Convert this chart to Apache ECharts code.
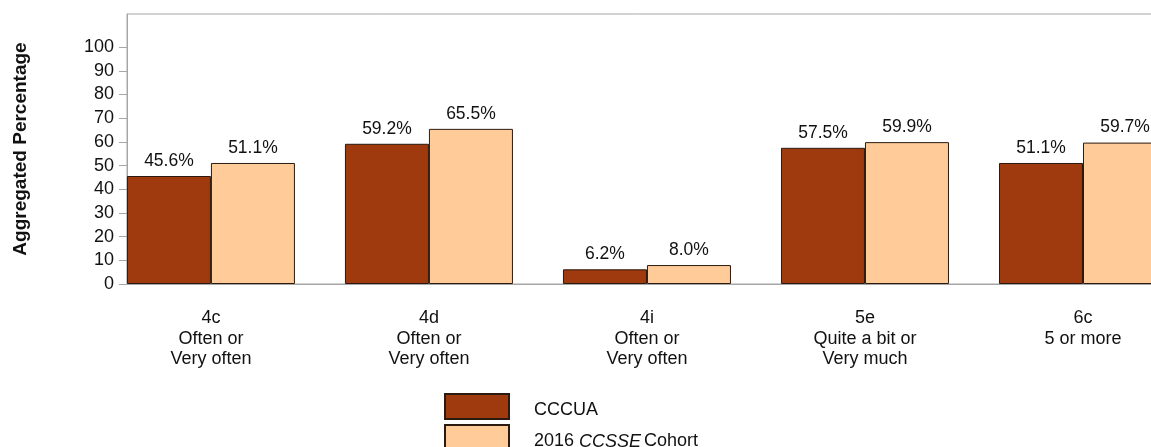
<!DOCTYPE html>
<html>
<head>
<meta charset="utf-8">
<script src="https://cdn.jsdelivr.net/npm/echarts@6/dist/echarts.min.js"></script>
<style>html,body{margin:0;padding:0;background:#fff;}#c{width:1151px;height:447px;}</style>
</head>
<body>
<div id="c"></div>
<script>
var categories = ['4c\nOften or\nVery often', '4d\nOften or\nVery often', '4i\nOften or\nVery often', '5e\nQuite a bit or\nVery much', '6c\n5 or more'];
var cccua = [45.6, 59.2, 6.2, 57.5, 51.1];
var cohort = [51.1, 65.5, 8.0, 59.9, 59.7];
var yTicks = [0, 10, 20, 30, 40, 50, 60, 70, 80, 90, 100];
var seriesNames = ['CCCUA', '2016 CCSSE Cohort'];

var chart = echarts.init(document.getElementById('c'), null, {renderer: 'canvas'});
var font = 'Liberation Sans, Arial, sans-serif';
function pts(arr) { return arr.map(function (v, i) { return [i, v]; }); }
var labelCfg = {show: true, position: 'top', distance: 6, color: '#111', fontSize: 17.5, fontFamily: font,
  formatter: function (p) { return p.value[1].toFixed(1) + '%'; }};
chart.setOption({
  animation: false,
  backgroundColor: '#fff',
  grid: {left: 127, top: 14, width: 1065, bottom: 163, show: true, borderColor: '#a6a6a6', borderWidth: 1,
    containLabel: false, outerBoundsMode: 'none'},
  xAxis: {
    type: 'value', min: -0.385, max: 4.5,
    axisLine: {show: true, onZero: false, lineStyle: {color: '#a6a6a6', width: 1}},
    axisTick: {show: false},
    splitLine: {show: false},
    axisLabel: {
      customValues: [0, 1, 2, 3, 4], margin: 24, color: '#111', fontSize: 18, lineHeight: 20.5, fontFamily: font,
      formatter: function (v) { return categories[Math.round(v)]; }
    }
  },
  yAxis: {
    type: 'value', min: 0, max: 114, interval: 10,
    name: 'Aggregated Percentage', nameLocation: 'middle', nameGap: 97, nameRotate: 90,
    nameTextStyle: {fontSize: 19, fontWeight: 'bold', color: '#111', fontFamily: font},
    axisLine: {show: true, onZero: false, lineStyle: {color: '#a6a6a6', width: 1}},
    axisTick: {show: true, customValues: yTicks, length: 8, lineStyle: {color: '#a6a6a6'}},
    splitLine: {show: false},
    axisLabel: {customValues: yTicks, margin: 13, color: '#111', fontSize: 18, fontFamily: font}
  },
  legend: {
    orient: 'vertical', left: 444, top: 393, height: 80, padding: 0, itemWidth: 64, itemHeight: 25, itemGap: 4,
    icon: 'rect',
    textStyle: {fontSize: 18, color: '#111', fontFamily: font, padding: [8, 0, 0, 20],
      rich: {i: {fontStyle: 'italic', fontSize: 18, fontFamily: font, color: '#111', padding: [0, 3, 0, 0]}}},
    formatter: function (n) { return n === seriesNames[1] ? '2016 {i|CCSSE}Cohort' : n; },
    data: seriesNames
  },
  series: [
    {name: seriesNames[0], type: 'bar', data: pts(cccua), barWidth: 84, barGap: '0%',
      itemStyle: {color: '#9E3A0D', borderColor: '#2a1a10', borderWidth: 1}, label: labelCfg},
    {name: seriesNames[1], type: 'bar', data: pts(cohort), barWidth: 84, barGap: '0%',
      itemStyle: {color: '#FFCC99', borderColor: '#2a1a10', borderWidth: 1}, label: labelCfg}
  ]
});
</script>
</body>
</html>
